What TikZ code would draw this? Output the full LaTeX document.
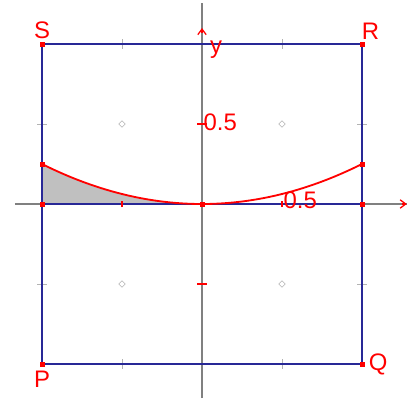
\documentclass[tikz,border=0pt]{standalone}
\usepackage{fontspec}
\setmainfont{Liberation Sans}
\usetikzlibrary{arrows.meta, positioning}
\definecolor{cSq}{RGB}{40,40,150}
\definecolor{cAx}{RGB}{128,128,128}
\definecolor{cPt}{RGB}{255,0,0}
\definecolor{cFill}{RGB}{192,192,192}

\begin{document}
\begin{tikzpicture}[x=4cm, y=4cm,
      node distance=0pt,
      lbl/.style={text=cPt, font=\fontsize{17}{19}\selectfont, inner sep=1pt},
      ax/.style={draw=cAx, line width=0.9pt},
      sq/.style={draw=cSq, line width=1.4pt},
      crv/.style={draw=cPt, line width=1.3pt},
      tk/.style={draw=cPt, line width=0.9pt},
      pt/.style={fill=cPt, draw=cPt, minimum size=3pt, inner sep=0pt, rectangle},
      grd/.style={draw=cAx!60, line width=0.4pt},
      >={Straight Barb[length=4pt, width=6pt]}]
    \useasboundingbox (-1.2625,-1.2125) rectangle (1.34375,1.275);
    % corners and axis ends
    \coordinate (P) at (-1,-1);  \coordinate (Q) at (1,-1);
    \coordinate (R) at (1,1);    \coordinate (S) at (-1,1);
    \coordinate (O) at (0,0);
    \coordinate (xl) at (-1.17,0);  \coordinate (xr) at (1.28,0);
    \coordinate (yb) at (0,-1.2125); \coordinate (yt) at (0,1.256);
    \coordinate (ya) at (0,1.10);
    \coordinate (L) at (-1,0);   \coordinate (Rr) at (1,0);
    \coordinate (A) at (-1,0.25); \coordinate (B) at (1,0.25);
    % shaded part under the curve
    \fill[cFill] (L) -- (A) -- plot[domain=-1:0, samples=40] (\x,{\x*\x/4}) -- cycle;
    % axes
    \draw[ax] (xl) -- (xr);
    \draw[ax] (yb) -- (yt);
    \draw[tk, ->] (1.25,0) -- (xr);
    \draw[tk, ->] (0,1.07) -- (ya);
    % grid marks
    \foreach \u in {-0.5,0.5}{
      \foreach \v in {-0.5,0.5}
        \draw[grd] (\u-0.02,\v) -- (\u,\v+0.02) -- (\u+0.02,\v) -- (\u,\v-0.02) -- cycle;
      \draw[grd] (\u,0.97) -- (\u,1.03);
      \draw[grd] (\u,-0.97) -- (\u,-1.03);
      \draw[grd] (-0.97,\u) -- (-1.03,\u);
      \draw[grd] (0.97,\u) -- (1.03,\u);
    }
    % square and middle line
    \draw[sq] (P) -- (Q) -- (R) -- (S) -- cycle;
    \draw[sq] (L) -- (Rr);
    % axis ticks
    \draw[tk] (-0.5,-0.02) -- (-0.5,0.02);
    \draw[tk] (-0.03,-0.5) -- (0.03,-0.5);
    \draw[tk] (-0.03,0.5) -- (0.03,0.5);
    \draw[tk] (0.5,-0.02) -- (0.5,0.02);
    % the curve
    \draw[crv] plot[domain=-1:1, samples=60] (\x,{\x*\x/4});
    % points
    \foreach \p in {P,Q,R,S,O,L,Rr,A,B}
      \node[pt] (n\p) at (\p) {};
    % labels
    \node[lbl, above=1pt of nS] (lS) {S};
    \node[lbl, above right=0pt and -3pt of nR] (lR) {R};
    \node[lbl, below=2pt of nP] (lP) {P};
    \node[lbl, right=2pt of nQ] (lQ) {Q};
    \node[lbl, anchor=north west] (ly) at (0.04,1.03) {y};
    \node[lbl, anchor=west] (ly5) at (0.0,0.51) {0.5};
    \node[lbl, anchor=south west] (lx5) at (0.5,-0.04) {0.5};
  \end{tikzpicture}
\end{document}
